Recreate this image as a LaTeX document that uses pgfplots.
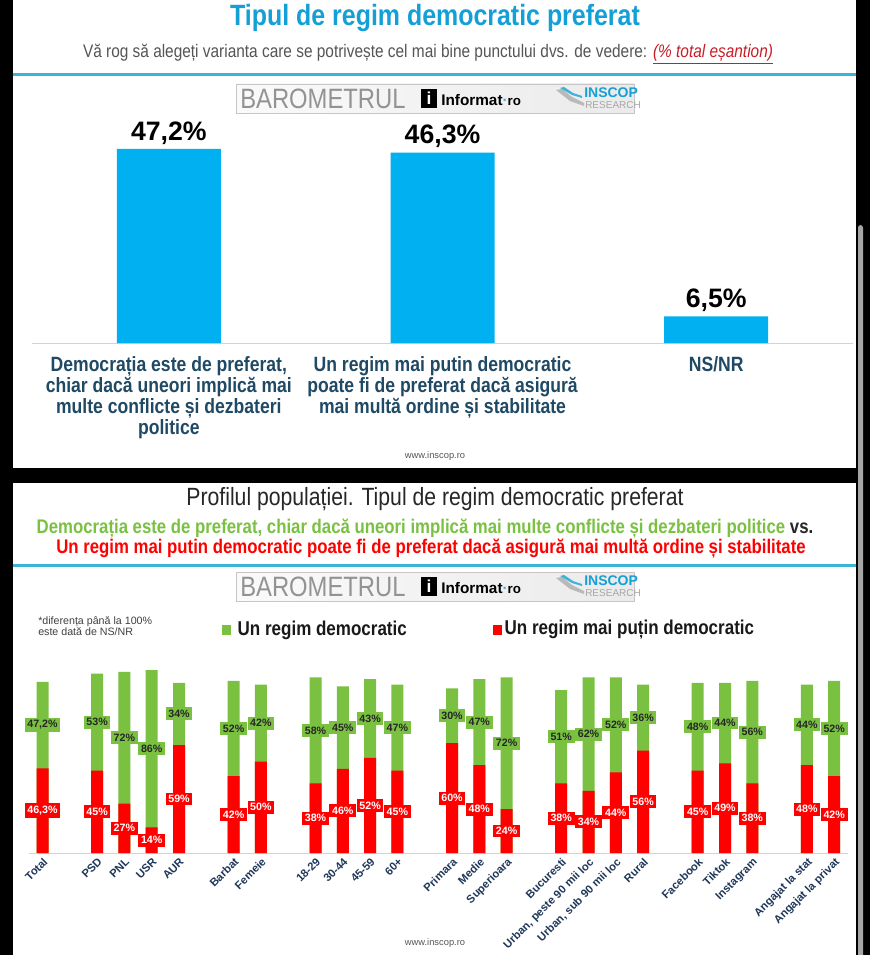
\documentclass[border=0pt]{standalone}
\usepackage{fontspec}
\setmainfont{Liberation Sans}
\newfontfamily\narrow[FakeStretch=0.85]{Liberation Sans}
\usepackage{pgfplots}
\pgfplotsset{compat=1.18}
\usepackage{pgfplotstable}

\definecolor{cyanbar}{RGB}{0,176,240}
\definecolor{titlecyan}{RGB}{20,160,215}
\definecolor{rulecyan}{RGB}{60,180,215}
\definecolor{catblue}{RGB}{31,73,100}
\definecolor{cgreen}{RGB}{122,193,66}
\definecolor{cred}{RGB}{255,0,0}
\definecolor{navy}{RGB}{31,56,90}
\definecolor{subgray}{RGB}{85,85,85}
\definecolor{ulred}{RGB}{200,30,40}

\pgfplotstableread{
x g r
0 47.2 46.3
2 53 45
3 72 27
4 86 14
5 34 59
7 52 42
8 42 50
10 58 38
11 45 46
12 43 52
13 47 45
15 30 60
16 47 48
17 72 24
19 51 38
20 62 34
21 52 44
22 36 56
24 48 45
25 44 49
26 56 38
28 44 48
29 52 42
}\prof

\newcommand{\logo}[1]{%
\begin{scope}[shift={(0,#1)}]
\shade[left color=gray!4, right color=gray!16, draw=gray!45] (236,0) rectangle (634,29);
\node[anchor=west, inner sep=0pt, font=\narrow\fontsize{21}{22}\selectfont, text=gray!85] at (240,15) {BAROMETRUL};
\fill[black] (421,5) rectangle (437,24);
\node[font=\bfseries\fontsize{13}{13}\selectfont, text=white, inner sep=0pt] at (429,14.5) {i};
\node[anchor=west, inner sep=0pt, font=\bfseries\fontsize{11.5}{12}\selectfont] at (441,16) {Informat\textcolor{rulecyan}{·}{\fontsize{10}{11}\selectfont ro}};
\fill[gray!55] (556,6) -- (570,17) -- (584,22) -- (584,19) -- (572,13) -- (562,5) -- cycle;
\fill[rulecyan] (560,4) -- (572,11) -- (582,14) -- (582,12) -- (573,9) -- (564,3) -- cycle;
\node[anchor=west, inner sep=0pt, font=\bfseries\fontsize{10.5}{11}\selectfont, text=titlecyan] at (584,9) {INSCOP};
\node[anchor=west, inner sep=0pt, font=\fontsize{7.5}{8}\selectfont, text=gray!70] at (585,21) {RESEARCH};
\end{scope}}

\begin{document}
\begin{tikzpicture}
\begin{scope}[x=0.75pt,y=-0.75pt]
\fill[black] (0,0) rectangle (870,955);
\fill[white] (13,0) rectangle (856,468);
\fill[white] (13,483) rectangle (856,955);
\fill[gray!70, rounded corners=2pt] (858,225) rectangle (863,965);
% top panel texts
\node[font=\narrow\bfseries\fontsize{22}{24}\selectfont, text=titlecyan] at (435,18) {Tipul de regim democratic preferat};
\node[font=\narrow\fontsize{13.6}{15}\selectfont, text=subgray] at (428,54) {Vă rog să alegeți varianta care se potrivește cel mai bine punctului dvs. de vedere: \textcolor{ulred}{\itshape\underline{(\% total eșantion)}}};
\draw[rulecyan, line width=2.25pt] (13,75) -- (856,75);
\logo{84}
\node[font=\fontsize{7}{8}\selectfont, text=subgray] at (435,456) {www.inscop.ro};
% bottom panel texts
\node[font=\narrow\fontsize{18.7}{20}\selectfont, text=black!85] at (435,499) {Profilul populației. Tipul de regim democratic preferat};
\node[font=\narrow\bfseries\fontsize{14.8}{16}\selectfont, text=black!85] at (425,529) {\textcolor{cgreen}{Democrația este de preferat, chiar dacă uneori implică mai multe conflicte și dezbateri politice} vs.};
\node[font=\narrow\bfseries\fontsize{14.8}{16}\selectfont, text=cred] at (431,549) {Un regim mai putin democratic poate fi de preferat dacă asigură mai multă ordine și stabilitate};
\draw[rulecyan, line width=2.25pt] (13,565) -- (856,565);
\logo{572}
\node[anchor=west, align=left, inner sep=0pt, font=\fontsize{8}{8.25}\selectfont, text=black!75] at (38,626) {*diferența până la 100\%\\este dată de NS/NR};
\fill[cgreen] (222,625) rectangle (231,635);
\node[anchor=west, font=\narrow\bfseries\fontsize{15}{16}\selectfont, text=black!90] at (233,630) {Un regim democratic};
\fill[cred] (493,625) rectangle (502,635);
\node[anchor=west, font=\narrow\bfseries\fontsize{15}{16}\selectfont, text=black!90] at (500,630) {Un regim mai puțin democratic};
\node[font=\fontsize{7}{8}\selectfont, text=subgray] at (435,943) {www.inscop.ro};
\end{scope}

% top chart
\begin{axis}[at={(24pt,-257.25pt)}, anchor=south west, scale only axis,
  width=615.75pt, height=166.5pt, xmin=-0.5, xmax=2.5, ymin=0, ymax=54,
  axis y line=none, axis x line*=bottom, axis line style={gray!35},
  xtick={0,1,2}, xtick style={draw=none},
  xticklabels={{Democrația este de preferat,\\chiar dacă uneori implică mai\\multe conflicte și dezbateri\\politice},{Un regim mai putin democratic\\poate fi de preferat dacă asigură\\mai multă ordine și stabilitate},{NS/NR}},
  xticklabel style={align=center, anchor=north, yshift=-2pt, text=catblue, font=\narrow\bfseries\fontsize{15.5}{15.9}\selectfont},
  extra x ticks={-0.5,0.5,1.5,2.5}, extra x tick labels={},
  extra x tick style={major tick length=4pt, tick align=outside, tick style={gray!40}},
  ybar, bar width=78pt,
  nodes near coords={\pgfmathprintnumber[use comma,fixed,precision=1,assume math mode=true]{\pgfplotspointmeta}\%},
  every node near coord/.append style={font=\bfseries\fontsize{20}{22}\selectfont, text=black},
  clip=false]
\addplot[fill=cyanbar, draw=none] coordinates {(0,47.2) (1,46.3) (2,6.5)};
\end{axis}

% bottom chart
\begin{axis}[at={(21.64pt,-639.75pt)}, anchor=south west, scale only axis,
  width=614.25pt, height=137.25pt, xmin=-0.5, xmax=29.5, ymin=0, ymax=100,
  axis y line=none, axis x line*=bottom, axis line style={gray!35},
  xtick={0,2,3,4,5,7,8,10,11,12,13,15,16,17,19,20,21,22,24,25,26,28,29},
  xtick style={draw=none},
  xticklabels={Total,PSD,PNL,USR,AUR,Barbat,Femeie,18-29,30-44,45-59,60+,Primara,Medie,Superioara,Bucuresti,{Urban, peste 90 mii loc},{Urban, sub 90 mii loc},Rural,Facebook,Tiktok,Instagram,Angajat la stat,Angajat la privat},
  xticklabel style={rotate=45, anchor=north east, inner sep=2pt, text=navy, font=\bfseries\fontsize{8.4}{9}\selectfont},
  extra x ticks={-0.5,0.5,...,29.5}, extra x tick labels={},
  extra x tick style={major tick length=3pt, tick align=outside, tick style={gray!40}},
  clip=false]
\addplot[ybar, bar width=9pt, bar shift=0pt, fill=cgreen, draw=none] table[x=x, y expr=\thisrow{g}+\thisrow{r}] {\prof};
\addplot[ybar, bar width=9pt, bar shift=0pt, fill=cred, draw=none] table[x=x, y=r] {\prof};
\addplot[draw=none, point meta=explicit,
  nodes near coords={\pgfmathprintnumber[use comma,fixed,precision=1,assume math mode=true]{\pgfplotspointmeta}\%},
  every node near coord/.append style={anchor=center, fill=cgreen, text=black!85, inner sep=2pt, font=\bfseries\fontsize{8}{8.5}\selectfont}]
  table[x=x, y expr=\thisrow{r}+0.5*\thisrow{g}, meta=g] {\prof};
\addplot[draw=none, point meta=explicit,
  nodes near coords={\pgfmathprintnumber[use comma,fixed,precision=1,assume math mode=true]{\pgfplotspointmeta}\%},
  every node near coord/.append style={anchor=center, fill=cred, text=white, inner sep=2pt, font=\bfseries\fontsize{8}{8.5}\selectfont}]
  table[x=x, y expr=0.5*\thisrow{r}, meta=r] {\prof};
\end{axis}
\pgfresetboundingbox
\path[x=0.75pt,y=-0.75pt] (0,0) rectangle (870,955);
\end{tikzpicture}
\end{document}
